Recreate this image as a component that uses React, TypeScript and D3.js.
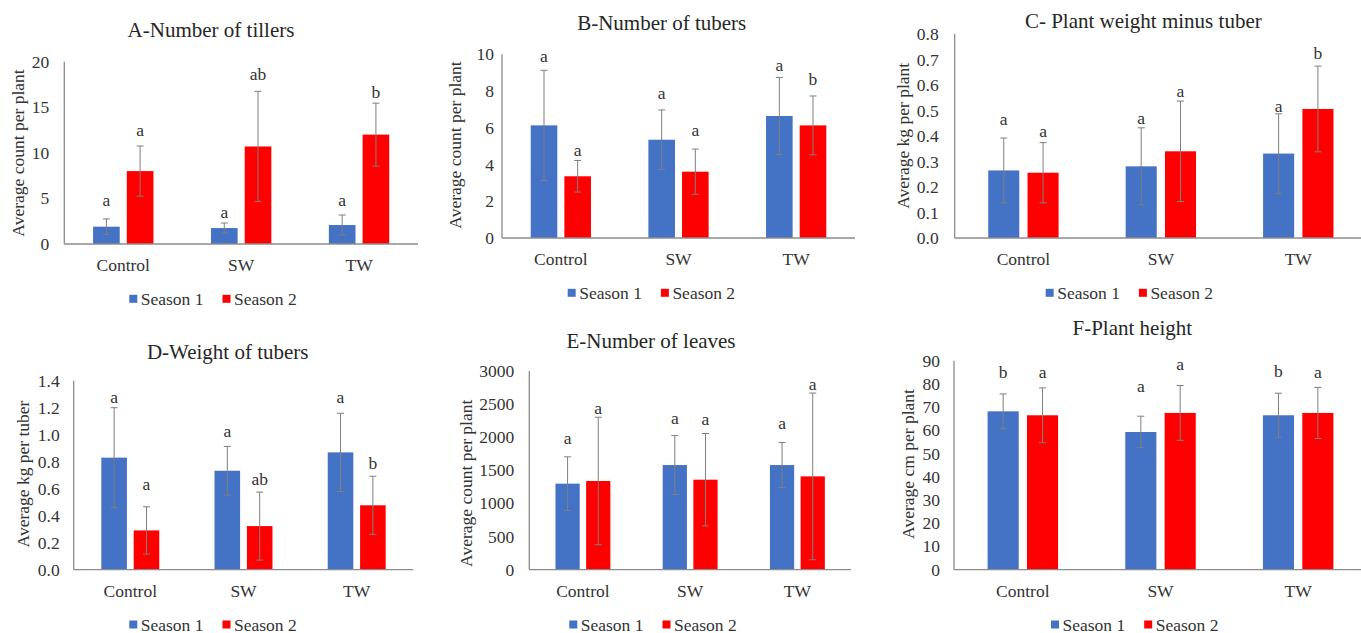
import React from "react";
import * as d3 from "d3";

// ---------- data ----------
const categories = ["Control", "SW", "TW"];
const seriesNames = ["Season 1", "Season 2"];

// A - Number of tillers
const tillersS1 = [1.9, 1.75, 2.08];
const tillersS2 = [8.0, 10.7, 12.0];
const tillersErrS1 = [0.85, 0.55, 1.1];
const tillersErrS2 = [2.75, 6.05, 3.45];
const tillersLetS1 = ["a", "a", "a"];
const tillersLetS2 = ["a", "ab", "b"];
const tillersLetYS1 = [4.83, 3.47, 4.83];
const tillersLetYS2 = [12.5, 18.65, 16.7];
const tillersTicks = [0, 5, 10, 15, 20];

// B - Number of tubers
const tubersS1 = [6.13, 5.35, 6.64];
const tubersS2 = [3.36, 3.61, 6.13];
const tubersErrS1 = [3.0, 1.62, 2.1];
const tubersErrS2 = [0.86, 1.23, 1.6];
const tubersLetS1 = ["a", "a", "a"];
const tubersLetS2 = ["a", "a", "b"];
const tubersLetYS1 = [9.93, 7.91, 9.42];
const tubersLetYS2 = [4.79, 5.88, 8.64];
const tubersTicks = [0, 2, 4, 6, 8, 10];

// C - Plant weight minus tuber
const plantWtS1 = [0.265, 0.281, 0.331];
const plantWtS2 = [0.256, 0.34, 0.506];
const plantWtErrS1 = [0.127, 0.151, 0.156];
const plantWtErrS2 = [0.118, 0.197, 0.168];
const plantWtLetS1 = ["a", "a", "a"];
const plantWtLetS2 = ["a", "a", "b"];
const plantWtLetYS1 = [0.467, 0.469, 0.518];
const plantWtLetYS2 = [0.421, 0.578, 0.724];
const plantWtTicks = [0, 0.1, 0.2, 0.3, 0.4, 0.5, 0.6, 0.7, 0.8];

// D - Weight of tubers
const tuberWtS1 = [0.83, 0.733, 0.869];
const tuberWtS2 = [0.291, 0.323, 0.477];
const tuberWtErrS1 = [0.37, 0.18, 0.29];
const tuberWtErrS2 = [0.175, 0.252, 0.215];
const tuberWtLetS1 = ["a", "a", "a"];
const tuberWtLetS2 = ["a", "ab", "b"];
const tuberWtLetYS1 = [1.277, 1.03, 1.277];
const tuberWtLetYS2 = [0.635, 0.669, 0.793];
const tuberWtTicks = [0, 0.2, 0.4, 0.6, 0.8, 1.0, 1.2, 1.4];

// E - Number of leaves
const leavesS1 = [1299, 1580, 1580];
const leavesS2 = [1339, 1359, 1409];
const leavesErrS1 = [405, 445, 340];
const leavesErrS2 = [963, 697, 1258];
const leavesLetS1 = ["a", "a", "a"];
const leavesLetS2 = ["a", "a", "a"];
const leavesLetYS1 = [1983, 2285, 2210];
const leavesLetYS2 = [2446, 2270, 2804];
const leavesTicks = [0, 500, 1000, 1500, 2000, 2500, 3000];

// F - Plant height
const heightS1 = [68.2, 59.3, 66.5];
const heightS2 = [66.5, 67.5, 67.5];
const heightErrS1 = [7.5, 6.8, 9.5];
const heightErrS2 = [11.8, 11.8, 11.0];
const heightLetS1 = ["b", "a", "b"];
const heightLetS2 = ["a", "a", "a"];
const heightLetYS1 = [85.3, 79.2, 85.5];
const heightLetYS2 = [85.3, 88.6, 85.0];
const heightTicks = [0, 10, 20, 30, 40, 50, 60, 70, 80, 90];

// ---------- panel definitions ----------
const panels = [
  {
    title: "A-Number of tillers", yLabel: "Average count per plant",
    s1: tillersS1, s2: tillersS2, e1: tillersErrS1, e2: tillersErrS2,
    l1: tillersLetS1, l2: tillersLetS2, ly1: tillersLetYS1, ly2: tillersLetYS2,
    ticks: tillersTicks, fmt: "d",
    box: { x0: 64.3, x1: 418, yTop: 61.7, yBot: 244 },
    titlePos: [211, 30], yLabPos: [18.3, 153], legendX: 129.3, tickGap: 15,
  },
  {
    title: "B-Number of tubers", yLabel: "Average count per plant",
    s1: tubersS1, s2: tubersS2, e1: tubersErrS1, e2: tubersErrS2,
    l1: tubersLetS1, l2: tubersLetS2, ly1: tubersLetYS1, ly2: tubersLetYS2,
    ticks: tubersTicks, fmt: "d",
    box: { x0: 502, x1: 855, yTop: 54.3, yBot: 238 },
    titlePos: [661.7, 22.7], yLabPos: [455, 145], legendX: 567.7, tickGap: 8,
  },
  {
    title: "C- Plant weight minus tuber", yLabel: "Average kg per plant",
    s1: plantWtS1, s2: plantWtS2, e1: plantWtErrS1, e2: plantWtErrS2,
    l1: plantWtLetS1, l2: plantWtLetS2, ly1: plantWtLetYS1, ly2: plantWtLetYS2,
    ticks: plantWtTicks, fmt: ".1f",
    box: { x0: 954.7, x1: 1367, yTop: 34, yBot: 238 },
    titlePos: [1143.3, 20.7], yLabPos: [902.7, 135.8], legendX: 1045.7, tickGap: 16,
  },
  {
    title: "D-Weight of tubers", yLabel: "Average kg per tuber",
    s1: tuberWtS1, s2: tuberWtS2, e1: tuberWtErrS1, e2: tuberWtErrS2,
    l1: tuberWtLetS1, l2: tuberWtLetS2, ly1: tuberWtLetYS1, ly2: tuberWtLetYS2,
    ticks: tuberWtTicks, fmt: ".1f",
    box: { x0: 73.7, x1: 413.3, yTop: 380.7, yBot: 569.7 },
    titlePos: [227.7, 352.3], yLabPos: [23.3, 474], legendX: 129.3, tickGap: 14,
  },
  {
    title: "E-Number of leaves", yLabel: "Average count per plant",
    s1: leavesS1, s2: leavesS2, e1: leavesErrS1, e2: leavesErrS2,
    l1: leavesLetS1, l2: leavesLetS2, ly1: leavesLetYS1, ly2: leavesLetYS2,
    ticks: leavesTicks, fmt: "d",
    box: { x0: 529.3, x1: 851, yTop: 371, yBot: 569.7 },
    titlePos: [651, 340.7], yLabPos: [466, 483.3], legendX: 569.3, tickGap: 15,
  },
  {
    title: "F-Plant height", yLabel: "Average cm per plant",
    s1: heightS1, s2: heightS2, e1: heightErrS1, e2: heightErrS2,
    l1: heightLetS1, l2: heightLetS2, ly1: heightLetYS1, ly2: heightLetYS2,
    ticks: heightTicks, fmt: "d",
    box: { x0: 954, x1: 1367, yTop: 360.7, yBot: 569.7 },
    titlePos: [1132.3, 328.3], yLabPos: [908.3, 464], legendX: 1051, tickGap: 14,
  },
];

const COLORS = ["#4472C4", "#FF0000"];
const FONT = "'Liberation Serif', 'Times New Roman', serif";
const TXT = "#333333";
const AXIS = "#8c8c8c";
const ERR = "#7f7f7f";

function Panel({ p }: { p: any }) {
  const { x0, x1, yTop, yBot } = p.box;
  const x = d3.scaleBand().domain(categories).range([x0, x1]).padding(0);
  const bw = x.bandwidth();
  const barW = bw * 0.226;
  const gap = bw * 0.06;
  const inner = d3
    .scaleBand()
    .domain(seriesNames)
    .range([0, 2 * barW + gap])
    .paddingInner(gap / (barW + gap))
    .paddingOuter(0);
  const maxT = p.ticks[p.ticks.length - 1];
  const y = d3.scaleLinear().domain([0, maxT]).range([yBot, yTop]);
  const fmt = d3.format(p.fmt);
  const vals = [p.s1, p.s2];
  const errs = [p.e1, p.e2];
  const lets = [p.l1, p.l2];
  const letYs = [p.ly1, p.ly2];
  const capHalf = 3.5;

  return (
    <g>
      <text x={p.titlePos[0]} y={p.titlePos[1]} textAnchor="middle" dominantBaseline="central"
        fontFamily={FONT} fontSize={21} fill="#262626">{p.title}</text>
      <text transform={`translate(${p.yLabPos[0]},${p.yLabPos[1]}) rotate(-90)`} textAnchor="middle"
        dominantBaseline="central" fontFamily={FONT} fontSize={17.5} fill={TXT}>{p.yLabel}</text>
      {p.ticks.map((t: number) => (
        <text key={t} x={x0 - p.tickGap} y={y(t)} textAnchor="end" dominantBaseline="central"
          fontFamily={FONT} fontSize={17.5} fill={TXT}>{fmt(t)}</text>
      ))}
      {categories.map((c, ci) => {
        const gx = (x(c) as number) + bw / 2 - (2 * barW + gap) / 2;
        return (
          <g key={c}>
            {seriesNames.map((s, si) => {
              const bx = gx + (inner(s) as number);
              const cx = bx + inner.bandwidth() / 2;
              const v = vals[si][ci];
              const e = errs[si][ci];
              return (
                <g key={s}>
                  <rect x={bx} y={y(v)} width={inner.bandwidth()} height={yBot - y(v)} fill={COLORS[si]} />
                  <line x1={cx} x2={cx} y1={y(v + e)} y2={y(v - e)} stroke={ERR} strokeWidth={1} />
                  <line x1={cx - capHalf} x2={cx + capHalf} y1={y(v + e)} y2={y(v + e)} stroke={ERR} strokeWidth={1} />
                  <line x1={cx - capHalf} x2={cx + capHalf} y1={y(v - e)} y2={y(v - e)} stroke={ERR} strokeWidth={1} />
                  <text x={cx} y={y(letYs[si][ci])} textAnchor="middle" dominantBaseline="central"
                    fontFamily={FONT} fontSize={17.5} fill={TXT}>{lets[si][ci]}</text>
                </g>
              );
            })}
            <text x={(x(c) as number) + bw / 2} y={yBot + 21} textAnchor="middle" dominantBaseline="central"
              fontFamily={FONT} fontSize={17.5} fill={TXT}>{c}</text>
          </g>
        );
      })}
      <line x1={x0} x2={x0} y1={yTop} y2={yBot} stroke={AXIS} strokeWidth={1.3} />
      <line x1={x0} x2={x1} y1={yBot} y2={yBot} stroke={AXIS} strokeWidth={1.3} />
      {seriesNames.map((s, si) => {
        const lx = p.legendX + si * 93.2;
        const ly = yBot + 54.8;
        return (
          <g key={s}>
            <rect x={lx} y={ly - 4} width={8} height={8} fill={COLORS[si]} />
            <text x={lx + 11.5} y={ly} dominantBaseline="central" fontFamily={FONT} fontSize={17.5} fill={TXT}>{s}</text>
          </g>
        );
      })}
    </g>
  );
}

export default function App() {
  return (
    <svg width={1361} height={633} style={{ position: "absolute", left: 0, top: 0, background: "#fff" }}>
      <rect x={0} y={0} width={1361} height={633} fill="#fff" />
      {panels.map((p) => (
        <Panel key={p.title} p={p} />
      ))}
    </svg>
  );
}
